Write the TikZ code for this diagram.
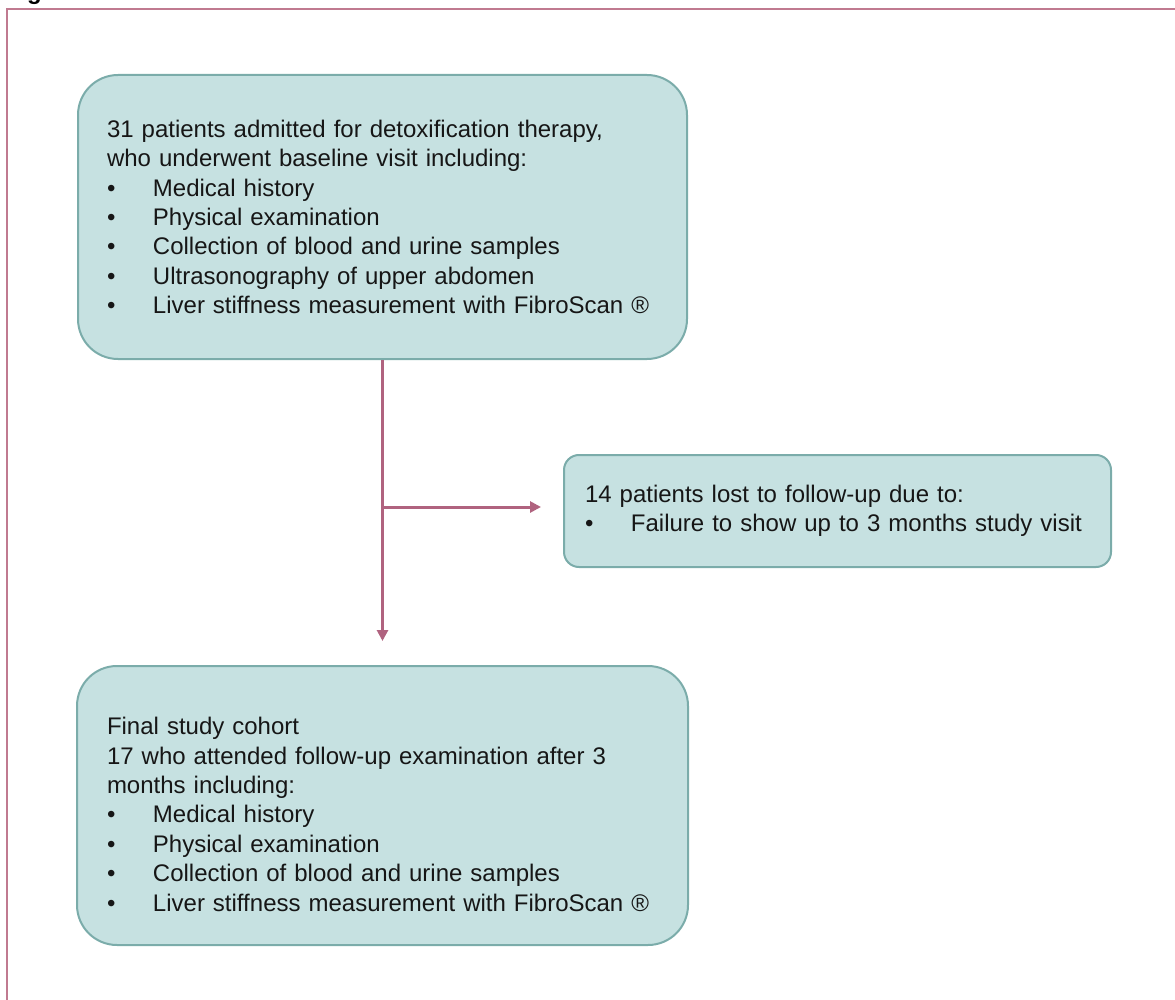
\documentclass[tikz,border=0pt]{standalone}
\usepackage{fontspec}
\setmainfont{Liberation Sans}
\usetikzlibrary{arrows.meta,positioning}
\definecolor{boxfill}{HTML}{C6E1E1}
\definecolor{boxline}{HTML}{7BACAA}
\definecolor{flowline}{HTML}{B0637F}
\definecolor{framecol}{HTML}{C07A90}
\definecolor{ink}{HTML}{161616}
\newcommand{\itm}{\makebox[46pt][l]{\textbullet}}

\begin{document}
\begin{tikzpicture}[x=1pt, y=-1pt,
    node distance=305pt and 20pt,
    box/.style={draw=boxline, fill=boxfill, line width=2pt, rounded corners=40pt, align=left, text=ink, font=\fontsize{24}{29.4}\selectfont, inner sep=0pt},
    flow/.style={draw=flowline, line width=3pt, ->},
    >={Triangle[length=11pt,width=11pt]}]
    \useasboundingbox (0,0) rectangle (1175,1000);
    \clip (0,0) rectangle (1175,1000);
    \node[font=\bfseries\fontsize{24}{28}\selectfont, anchor=base west, inner sep=0pt] (fig) at (27,0) {g};
    \draw[framecol, line width=1.5pt] (7,9) rectangle (1200,1020);
    \node[box, text width=551pt, minimum width=609pt, minimum height=284pt] (base) at (382.5,217) {31 patients admitted for detoxification therapy,\\who underwent baseline visit including:\\\itm Medical history\\\itm Physical examination\\\itm Collection of blood and urine samples\\\itm Ultrasonography of upper abdomen\\\itm Liver stiffness measurement with FibroScan ®};
    \node[box, rounded corners=15pt, text width=505pt, minimum width=547pt, minimum height=112pt] (lost) at (837.5,511) {14 patients lost to follow-up due to:\\\itm Failure to show up to 3 months study visit};
    \node[box, below=of base, text width=551pt, minimum width=611pt, minimum height=279pt] (final) {\rule{0pt}{35pt}Final study cohort\\17 who attended follow-up examination after 3\\months including:\\\itm Medical history\\\itm Physical examination\\\itm Collection of blood and urine samples\\\itm Liver stiffness measurement with FibroScan ®};
    \coordinate[yshift=4pt] (split) at (base.south |- lost.west);
    \draw[flow, shorten >=24pt] (base.south) -- (final.north);
    \draw[flow, shorten >=22pt] (split) -- (split -| lost.west);
\end{tikzpicture}
\end{document}
